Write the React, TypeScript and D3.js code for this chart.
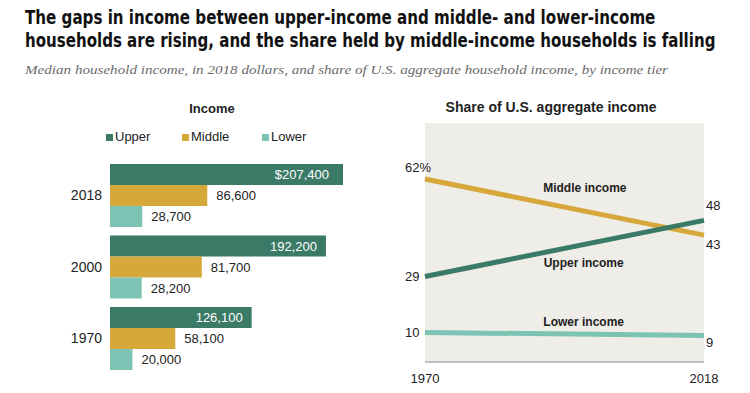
import React, { useEffect, useRef } from 'react';
import * as d3 from 'd3';

const years = ['2018', '2000', '1970'];
const tiers = ['Upper', 'Middle', 'Lower'];
const upperIncome = [207400, 192200, 126100];
const middleIncome = [86600, 81700, 58100];
const lowerIncome = [28700, 28200, 20000];

const shareYears = [1970, 2018];
const upperShare = [29, 48];
const middleShare = [62, 43];
const lowerShare = [10, 9];
// —————————————————————————————

const W = 750;
const H = 393;
const colors: Record<string, string> = { Upper: '#3a7a66', Middle: '#d6a83a', Lower: '#7cc3b3' };
const sans = '"Liberation Sans", Arial, sans-serif';
const narrow = '"Liberation Sans Narrow", "DejaVu Sans Condensed", "Liberation Sans", sans-serif';
const ink = '#222';

const fmt = d3.format(',');

// title lines: text, baseline, target width
const titleLines: [string, number, number][] = [
  ['The gaps in income between upper-income and middle- and lower-income', 24, 631],
  ['households are rising, and the share held by middle-income households is falling', 47, 691],
];

export default function App() {
  const titleRef = useRef<SVGGElement>(null);

  // squeeze the title lines to the reference widths with a real transform
  useEffect(() => {
    d3.select(titleRef.current).selectAll<SVGTextElement, unknown>('text').each(function () {
      const target = +(this.getAttribute('data-w') || 0);
      const natural = this.getComputedTextLength();
      if (natural > 0) {
        const y = this.getAttribute('y');
        d3.select(this)
          .attr('x', 0).attr('y', 0)
          .attr('transform', `translate(25,${y}) scale(${target / natural},1)`);
      }
    });
  }, []);

  const incomeByTier: Record<string, number[]> = { Upper: upperIncome, Middle: middleIncome, Lower: lowerIncome };

  // left panel scales
  const x = d3.scaleLinear().domain([0, 207400]).range([110, 343]);
  const y0 = d3.scaleBand().domain(years).range([164, 370]).paddingInner(0.119);
  const y1 = d3.scaleBand().domain(tiers).range([0, y0.bandwidth()]);

  // right panel scales
  const xs = d3.scaleLinear().domain([1970, 2018]).range([425, 704]);
  const ys = d3.scaleLinear().domain([0, 81]).range([362, 123]);
  const line = d3.line<[number, number]>().x(d => xs(d[0])).y(d => ys(d[1]));

  const series = [
    { key: 'Middle', vals: middleShare },
    { key: 'Upper', vals: upperShare },
    { key: 'Lower', vals: lowerShare },
  ];
  const last = shareYears.length - 1;

  const legendX = [106, 182, 262];

  return (
    <svg width={W} height={H} style={{ position: 'absolute', left: 0, top: 0, background: '#fff' }}>
      {/* Titles */}
      <g ref={titleRef}>
        {titleLines.map(([t, y, w]) => (
          <text key={t} x={25} y={y} data-w={w} fontFamily={narrow} fontWeight="bold" fontSize={19} fill="#111">{t}</text>
        ))}
      </g>
      <text x={25} y={74} fontFamily='"Liberation Serif", serif' fontStyle="italic" fontSize={13.5} fill="#6b6b6b"
        textLength={643} lengthAdjust="spacingAndGlyphs">
        Median household income, in 2018 dollars, and share of U.S. aggregate household income, by income tier
      </text>

      {/* Income panel */}
      <text x={212} y={113} textAnchor="middle" fontFamily={sans} fontWeight="bold" fontSize={13} fill={ink}>Income</text>
      {tiers.map((t, i) => (
        <g key={t}>
          <rect x={legendX[i]} y={134} width={7} height={7} fill={colors[t]} />
          <text x={legendX[i] + 9} y={141} fontFamily={sans} fontSize={13} fill={ink}>{t}</text>
        </g>
      ))}
      {years.map((yr, gi) => (
        <g key={yr} transform={`translate(0,${y0(yr)})`}>
          <text x={102} y={y1('Middle')! + y1.bandwidth() / 2} dy="0.35em" textAnchor="end"
            fontFamily={sans} fontSize={14} fill={ink}>{yr}</text>
          {tiers.map(t => {
            const v = incomeByTier[t][gi];
            const yy = y1(t)!;
            const inside = t === 'Upper';
            const label = (gi === 0 && inside ? '$' : '') + fmt(v);
            return (
              <g key={t}>
                <rect x={x(0)} y={yy} width={x(v) - x(0)} height={y1.bandwidth()} fill={colors[t]} />
                <text x={inside ? x(v) - (gi === 0 ? 14 : 9) : x(v) + 9} y={yy + y1.bandwidth() / 2} dy="0.35em"
                  textAnchor={inside ? 'end' : 'start'} fontFamily={sans} fontSize={13}
                  fill={inside ? '#fff' : ink}>{label}</text>
              </g>
            );
          })}
        </g>
      ))}

      {/* Share panel */}
      <text x={551} y={112} textAnchor="middle" fontFamily={sans} fontWeight="bold" fontSize={14} fill={ink}>
        Share of U.S. aggregate income
      </text>
      <rect x={xs(1970)} y={ys(81)} width={xs(2018) - xs(1970)} height={ys(0) - ys(81)} fill="#efede7" />
      <line x1={xs(1970)} x2={xs(2018)} y1={ys(0)} y2={ys(0)} stroke="#8a8a8a" strokeWidth={1} />
      {series.map(s => (
        <path key={s.key} d={line(shareYears.map((yr, i) => [yr, s.vals[i]] as [number, number])) || ''}
          fill="none" stroke={colors[s.key]} strokeWidth={5} />
      ))}

      {/* start / end labels */}
      <text x={405} y={ys(middleShare[0]) - 7} fontFamily={sans} fontSize={13} fill={ink}>{middleShare[0]}%</text>
      <text x={405} y={ys(upperShare[0])} dy="0.35em" fontFamily={sans} fontSize={13} fill={ink}>{upperShare[0]}</text>
      <text x={405} y={ys(lowerShare[0])} dy="0.35em" fontFamily={sans} fontSize={13} fill={ink}>{lowerShare[0]}</text>
      <text x={706} y={ys(upperShare[last]) - 10} fontFamily={sans} fontSize={13} fill={ink}>{upperShare[last]}</text>
      <text x={706} y={ys(middleShare[last]) + 14} fontFamily={sans} fontSize={13} fill={ink}>{middleShare[last]}</text>
      <text x={706} y={ys(lowerShare[last]) + 12} fontFamily={sans} fontSize={13} fill={ink}>{lowerShare[last]}</text>

      {/* series names */}
      <text x={xs(1997.5)} y={ys(57.6)} textAnchor="middle" fontFamily={sans} fontWeight="bold" fontSize={12} fill={ink}>Middle income</text>
      <text x={xs(1997.3)} y={ys(32.2)} textAnchor="middle" fontFamily={sans} fontWeight="bold" fontSize={12} fill={ink}>Upper income</text>
      <text x={xs(1997.3)} y={ys(12.2)} textAnchor="middle" fontFamily={sans} fontWeight="bold" fontSize={12} fill={ink}>Lower income</text>

      {/* x axis labels */}
      {[1970, 2018].map(yr => (
        <text key={yr} x={xs(yr)} y={383} textAnchor="middle" fontFamily={sans} fontSize={13} fill={ink}>{yr}</text>
      ))}
    </svg>
  );
}
